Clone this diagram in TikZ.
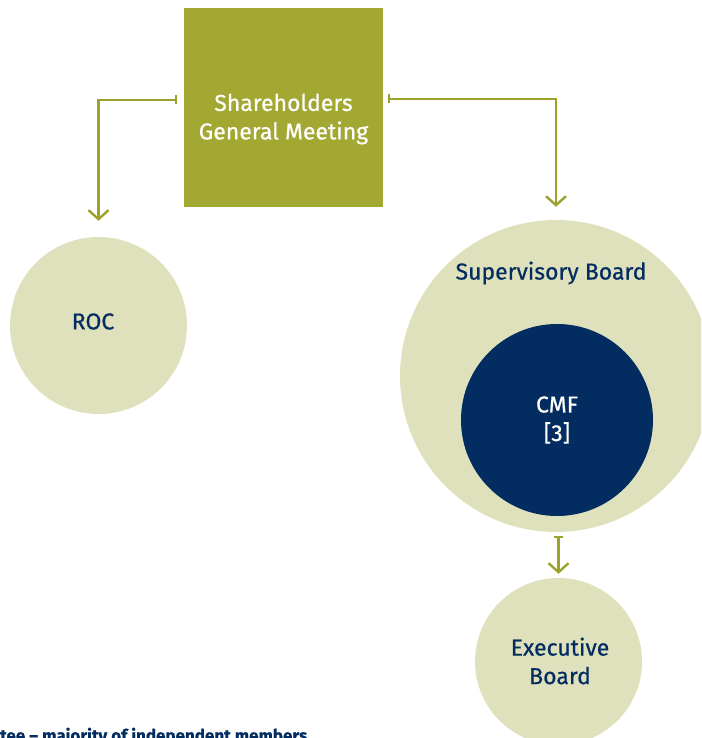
\documentclass[tikz,border=0pt]{standalone}
\usepackage{fontspec}
\setmainfont{Fira Sans}[FakeBold=0.6]
\usepackage{xcolor}
\usetikzlibrary{arrows.meta}
\usetikzlibrary{calc}

\definecolor{olive}{HTML}{A3A833}
\definecolor{oliveline}{HTML}{9DA22C}
\definecolor{pale}{HTML}{DFE1BC}
\definecolor{navy}{HTML}{032D61}

\tikzset{
  conn/.style={color=oliveline, line width=2.4pt, {Bar[width=9pt,line width=2pt]}-{Straight Barb[length=9pt,width=20pt,line width=2.4pt]}},
  bigtext/.style={font=\fontsize{23}{28.5}\selectfont, align=center},
  disc/.style={circle, fill=pale, inner sep=0pt}
}

\begin{document}
\begin{tikzpicture}[x=1pt,y=1pt]
\useasboundingbox (0,0) rectangle (701,738);
\clip (0,0) rectangle (701,738);

% boxes and circles
\node [fill=olive, minimum size=199pt, inner sep=0pt] (sgm) at (283.5,630.5) {};
\node [bigtext, text=white] (sgmt) at (283.5,619) {Shareholders\\General Meeting};
\node [disc, minimum size=177pt, bigtext, text=navy] (roc) at (98.5,412.5) {};
\node [bigtext, text=navy] (roct) at (93,416.5) {ROC};
\node [disc, minimum size=312pt] (sb) at (556,362) {};
\node [bigtext, text=navy] (sbl) at (551,465) {Supervisory Board};
\node [circle, fill=navy, minimum size=192pt, inner sep=0pt] (cmf) at (557,318) {};
\node [bigtext, text=white] (cmft) at (557,318) {CMF\\{[3]}};
\node [disc, minimum size=167pt] (eb) at (558.5,76.5) {};
\node [bigtext, text=navy] (ebt) at (560,77) {Executive\\Board};

% connectors
\draw [conn, shorten >=16pt] ([xshift=-7pt,yshift=7.5pt]sgm.west) -| (roc.north);
\draw [conn, shorten >=13pt] ([xshift=5pt,yshift=8.5pt]sgm.east) -| (sb.north);
\draw [conn, shorten >=4pt] ($(eb.north |- sb.south)+(0,-4)$) -- (eb.north);

% note, cut by the frame
\node [anchor=base west, text=navy, font=\bfseries\fontsize{17}{20}\selectfont, inner sep=0pt] (note) at (0,-3.5) {tee -- majority of independent members};
\end{tikzpicture}
\end{document}
